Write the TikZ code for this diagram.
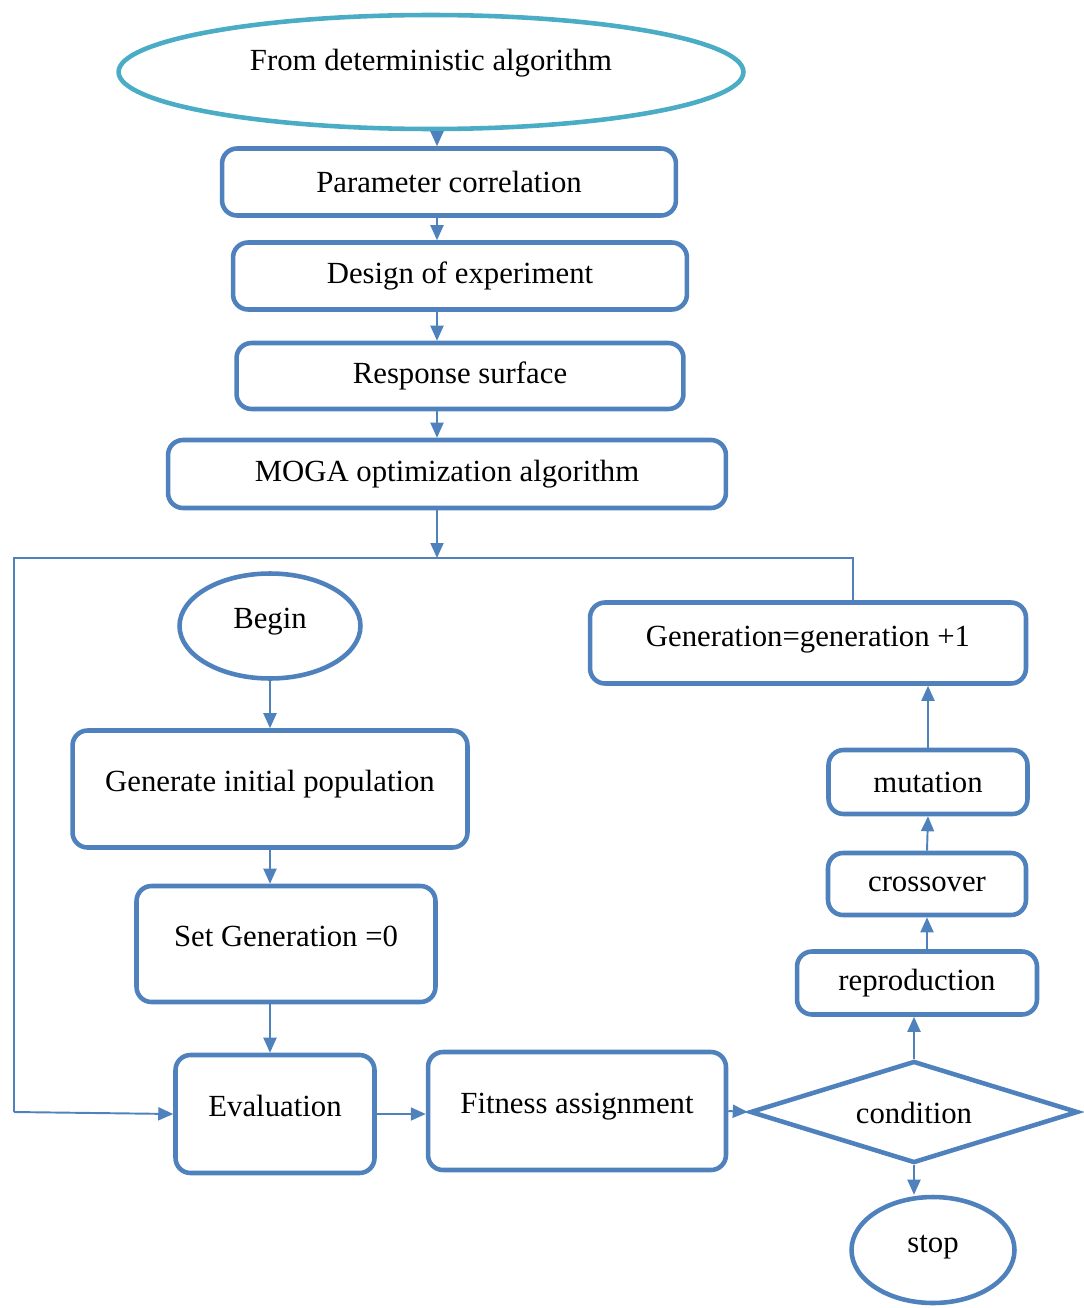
\documentclass[tikz,border=0pt]{standalone}
\usepackage{fontspec}
\setmainfont{Liberation Serif}
\usetikzlibrary{positioning,arrows.meta,shapes.geometric,calc}
\definecolor{boxblue}{RGB}{79,129,189}
\definecolor{startcyan}{RGB}{75,172,198}

\begin{document}
\begin{tikzpicture}[x=0.02cm,y=-0.02cm,
  every node/.style={font=\fontsize{17.5}{21}\selectfont},
  blk/.style={draw=boxblue,line width=2.6pt,rounded corners=0.3cm,inner sep=0pt},
  tallblk/.style={blk,text height=0.44cm,text depth=0.36cm},
  oval/.style={ellipse,draw=boxblue,line width=2.6pt,inner sep=0pt,text height=0.44cm,text depth=0.34cm},
  cond/.style={diamond,draw=boxblue,line width=2.6pt,inner sep=0pt,aspect=3,text height=0.56cm,text depth=0.1cm},
  conn/.style={draw=boxblue,line width=1.1pt},
  arr/.style={conn,-{Triangle[length=0.3cm,width=0.26cm]}}]
  \useasboundingbox (0,0) rectangle (1083,1308);

  % upper chain
  \node[oval,draw=startcyan,minimum width=12.5cm,minimum height=2.28cm,text depth=0.5cm] (src) at (431,72) {From deterministic algorithm};
  \node[blk,minimum width=9.08cm,minimum height=1.34cm] (param) at (449,182) {Parameter correlation};
  \node[blk,minimum width=9.08cm,minimum height=1.34cm] (doe) at (460,276) {Design of experiment};
  \node[blk,minimum width=8.94cm,minimum height=1.32cm] (resp) at (460,376) {Response surface};
  \node[blk,minimum width=11.16cm,minimum height=1.36cm] (moga) at (447,474) {MOGA optimization algorithm};

  \coordinate (spine) at (437,0);
  \coordinate (lt) at (14,558);
  \coordinate (lb) at (14,1112);

  % left column
  \node[oval,minimum width=3.62cm,minimum height=2.1cm] (begin) at (270,626) {Begin};
  \node[tallblk,minimum width=7.9cm,minimum height=2.34cm] (init) at (270,789) {Generate initial population};
  \node[tallblk,minimum width=5.98cm,minimum height=2.32cm] (setgen) at (286,944) {Set Generation =0};
  \node[tallblk,minimum width=3.98cm,minimum height=2.36cm] (eval) at (275,1114) {Evaluation};
  \node[tallblk,minimum width=5.96cm,minimum height=2.36cm] (fit) at (577,1111) {Fitness assignment};

  % right column
  \node[cond,minimum width=6.56cm,minimum height=2.04cm] (check) at (914,1112) {condition};
  \node[oval,minimum width=3.26cm,minimum height=2.12cm] (stop) at (933,1250) {stop};
  \node[blk,minimum width=4.8cm,minimum height=1.26cm] (repro) at (917,983) {reproduction};
  \node[blk,minimum width=3.96cm,minimum height=1.24cm] (cross) at (927,884) {crossover};
  \node[blk,minimum width=3.98cm,minimum height=1.28cm] (mut) at (928,782) {mutation};
  \node[blk,minimum width=8.72cm,minimum height=1.62cm,text depth=0.3cm,text height=0.44cm] (gen) at (808,643) {Generation=generation +1};

  \draw[arr] (src.south -| spine) -- (param.north -| spine);
  \draw[arr] (param.south -| spine) -- (doe.north -| spine);
  \draw[arr] (doe.south -| spine) -- (resp.north -| spine);
  \draw[arr] (resp.south -| spine) -- (moga.north -| spine);
  \draw[arr] (moga.south -| spine) -- (lt -| spine);

  \draw[conn] ([xshift=0.9cm]gen.north) |- (lt) -- (lb);
  \draw[arr] (lb) -- (eval.west);

  \draw[arr] (begin.south) -- (init.north);
  \draw[arr] (init.south) -- (init.south |- setgen.north);
  \draw[arr] ([xshift=-0.1cm]eval.north |- setgen.south) -- ([xshift=-0.1cm]eval.north);
  \draw[arr] (eval.east) -- (eval.east -| fit.west);
  \draw[arr] (fit.east) -- (check.west);
  \draw[arr] (check.south) -- (check.south |- stop.north);
  \draw[arr] (check.north) -- (check.north |- repro.south);
  \draw[arr] (cross.south |- repro.north) -- (cross.south);
  \draw[arr] (cross.north) -- (mut.south);
  \draw[arr] (mut.north) -- (mut.north |- gen.south);
\end{tikzpicture}
\end{document}
